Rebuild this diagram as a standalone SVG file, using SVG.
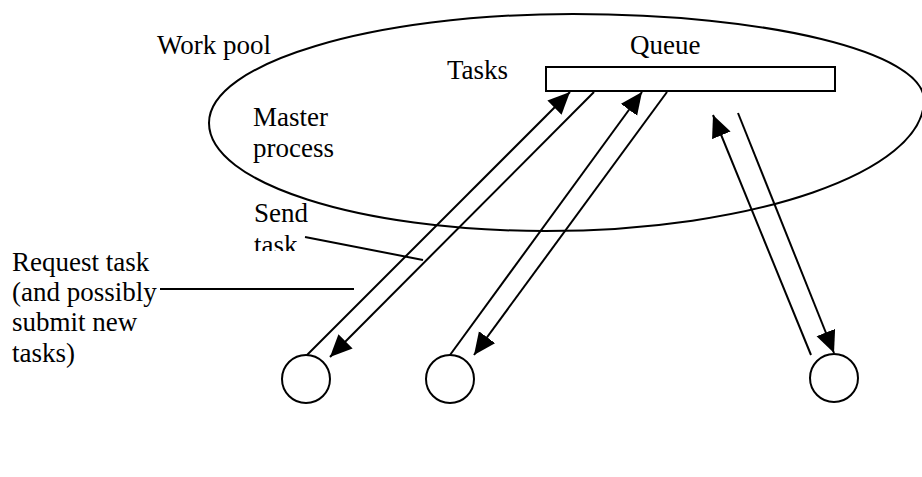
<svg xmlns="http://www.w3.org/2000/svg" width="922" height="477" viewBox="0 0 922 477">
<style>
text{font-family:"Liberation Serif","Times New Roman",serif;font-size:27px;fill:#000}
.s{fill:none;stroke:#000;stroke-width:2}
.c{stroke:#000;stroke-width:2;fill:none}
</style>
<defs>
<marker id="ah" markerUnits="userSpaceOnUse" markerWidth="24" markerHeight="22" refX="22" refY="10" orient="auto">
<path d="M0,0 L22,10 L0,20 z" fill="#000"/>
</marker>
<clipPath id="cut"><rect x="240" y="225" width="80" height="26"/></clipPath>
</defs>
<rect width="922" height="477" fill="#fff"/>
<g id="pool">
<path class="s" d="M209,123 C209,63 372,14 573,14 C767,14 924,52 924,100 C924,172 754,231 545,231 C359,231 209,183 209,123 Z"/>
<text x="157" y="54">Work pool</text>
<text x="253" y="126">Master</text>
<text x="253" y="157">process</text>
</g>
<g id="queue">
<rect class="s" x="546" y="67" width="289" height="24"/>
<text x="630" y="54">Queue</text>
<text x="447" y="79">Tasks</text>
</g>
<g id="worker1"><circle class="s" cx="306" cy="379" r="24"/></g>
<g id="worker2"><circle class="s" cx="450" cy="379" r="24"/></g>
<g id="worker3"><circle class="s" cx="834" cy="378" r="24"/></g>
<g id="labels">
<text x="254" y="222">Send</text>
<text x="254" y="254" clip-path="url(#cut)">task</text>
<text x="12" y="271">Request task</text>
<text x="12" y="301">(and possibly</text>
<text x="12" y="331">submit new</text>
<text x="12" y="362">tasks)</text>
</g>
<g id="connectors">
<line class="c" x1="307" y1="355" x2="570" y2="92" marker-end="url(#ah)"/>
<line class="c" x1="594" y1="92" x2="330" y2="357" marker-end="url(#ah)"/>
<line class="c" x1="450" y1="355" x2="642" y2="92" marker-end="url(#ah)"/>
<line class="c" x1="667" y1="92" x2="474" y2="355" marker-end="url(#ah)"/>
<line class="c" x1="811" y1="355" x2="713" y2="115" marker-end="url(#ah)"/>
<line class="c" x1="738" y1="113" x2="834" y2="353" marker-end="url(#ah)"/>
<line class="c" x1="305" y1="237" x2="423" y2="260"/>
<line class="c" x1="160" y1="289" x2="354" y2="289"/>
</g>
</svg>
